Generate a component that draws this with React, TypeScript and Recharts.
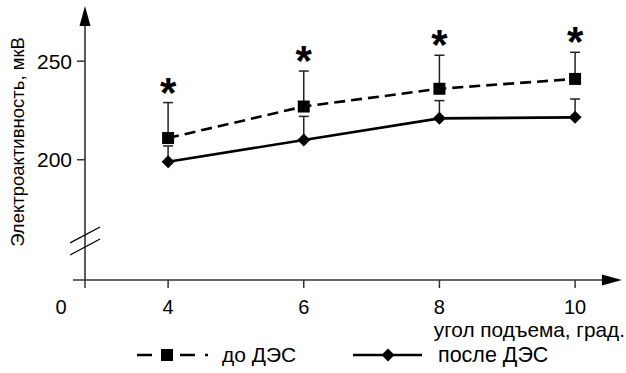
import React from "react";
import {
  ComposedChart,
  Line,
  XAxis,
  YAxis,
  ErrorBar,
  ReferenceLine,
  LabelList,
  Legend,
  Label,
} from "recharts";

// ---- data ----
const angles = [4, 6, 8, 10];
const beforeValues = [211, 227, 236, 241];
const beforeErrors = [18, 18, 17, 13.5];
const afterValues = [199, 210, 221, 221.5];
const afterErrors = [8, 12, 9, 9.3];
const yTicks = [200, 250];
const xTickValues = [4, 6, 8, 10];
const originLabel = "0";
const seriesNames = ["до ДЭС", "после ДЭС"];
const xAxisTitle = "угол подъема, град.";
const yAxisTitle = "Электроактивность, мкВ";

// ---- axis ranges (broken axes) ----
const X_MIN = 2.775;
const X_MAX = 10.5;
const Y_MIN = 139;
const Y_MAX = 279;

const data = angles.map((x, i) => ({
  x,
  before: beforeValues[i],
  beforeErr: [0, beforeErrors[i]],
  beforeTop: beforeValues[i] + beforeErrors[i],
  after: afterValues[i],
  afterErr: [0, afterErrors[i]],
}));

const FONT = "'Liberation Sans', Arial, Helvetica, sans-serif";
const AXIS_COLOR = "#333";

const ArrowLine = (props: any) => {
  const { x1, y1, x2, y2 } = props;
  const len = Math.hypot(x2 - x1, y2 - y1) || 1;
  const ux = (x2 - x1) / len;
  const uy = (y2 - y1) / len;
  const head = 20;
  const half = 5.5;
  const bx = x2 - ux * head;
  const by = y2 - uy * head;
  const px = -uy;
  const py = ux;
  return (
    <g>
      <line x1={x1} y1={y1} x2={bx + ux * 2} y2={by + uy * 2} stroke={AXIS_COLOR} strokeWidth={1.6} />
      <polygon
        points={`${x2},${y2} ${bx + px * half},${by + py * half} ${bx - px * half},${by - py * half}`}
        fill="#000"
      />
    </g>
  );
};

const PlainLine = (props: any) => {
  const { x1, y1, x2, y2 } = props;
  return <line x1={x1} y1={y1} x2={x2} y2={y2} stroke="#000" strokeWidth={1.3} />;
};

const SquareDot = (props: any) => {
  const { cx, cy, index } = props;
  if (cx == null || cy == null) return <g key={`s${index}`} />;
  return <rect key={`s${index}`} x={cx - 6} y={cy - 6} width={12} height={12} fill="#000" />;
};

const DiamondDot = (props: any) => {
  const { cx, cy, index } = props;
  if (cx == null || cy == null) return <g key={`d${index}`} />;
  const r = 6.5;
  return (
    <polygon
      key={`d${index}`}
      points={`${cx},${cy - r} ${cx + r},${cy} ${cx},${cy + r} ${cx - r},${cy}`}
      fill="#000"
    />
  );
};

const StarLabel = (props: any) => {
  const { x, y } = props;
  if (x == null || y == null) return null;
  return (
    <text x={x} y={y + 4} textAnchor="middle" fontSize={42} fontWeight="bold" fill="#000">
      *
    </text>
  );
};

const XTick = (props: any) => {
  const { x, y, payload } = props;
  const isOrigin = Math.abs(payload.value - X_MIN) < 1e-6;
  return (
    <text
      x={isOrigin ? x - 24 : x}
      y={y}
      dy="0.71em"
      textAnchor="middle"
      fontSize={20}
      fill="#000"
    >
      {isOrigin ? originLabel : String(payload.value)}
    </text>
  );
};

const LegendContent = () => (
  <svg width={626} height={30}>
    <line x1={137} y1={15} x2={208} y2={15} stroke="#000" strokeWidth={2.6} strokeDasharray="15 28 15 10 3" />
    <rect x={161} y={9} width={12} height={12} fill="#000" />
    <text x={222} y={22} fontSize={21} fill="#000" fontFamily={FONT}>
      {seriesNames[0]}
    </text>
    <line x1={353} y1={15} x2={422} y2={15} stroke="#000" strokeWidth={2.6} />
    <polygon points="388,8.5 394.5,15 388,21.5 381.5,15" fill="#000" />
    <text x={438} y={22} fontSize={21.5} fill="#000" fontFamily={FONT}>
      {seriesNames[1]}
    </text>
  </svg>
);

export default function App() {
  return (
    <div
      style={{
        position: "absolute",
        left: 0,
        top: 0,
        width: 626,
        height: 373,
        background: "#fff",
        fontFamily: FONT,
      }}
    >
      <ComposedChart
        width={626}
        height={373}
        data={data}
        margin={{ top: 4, right: 17, left: 8, bottom: 0 }}
      >
        <XAxis
          dataKey="x"
          type="number"
          domain={[X_MIN, X_MAX]}
          ticks={[X_MIN, ...xTickValues]}
          axisLine={false}
          tickLine={{ stroke: AXIS_COLOR, strokeWidth: 1.5 }}
          tickSize={8}
          tickMargin={12}
          height={63}
          tick={<XTick />}
          interval={0}
          allowDataOverflow
        >
          <Label
            content={(p: any) => {
              const vb = p.viewBox;
              return (
                <text
                  x={vb.x + vb.width + 16}
                  y={vb.y + 57}
                  textAnchor="end"
                  fontSize={20.8}
                  fill="#000"
                >
                  {xAxisTitle}
                </text>
              );
            }}
          />
        </XAxis>
        <YAxis
          type="number"
          domain={[Y_MIN, Y_MAX]}
          ticks={yTicks}
          axisLine={false}
          tickLine={{ stroke: AXIS_COLOR, strokeWidth: 1.5 }}
          tickSize={8}
          tickMargin={5}
          width={77}
          tick={{ fontSize: 21, fill: "#000" }}
          allowDataOverflow
        >
          <Label
            content={(p: any) => {
              const vb = p.viewBox;
              const cx = vb.x + 9;
              const cy = vb.y + vb.height / 2;
              return (
                <text
                  x={cx}
                  y={cy}
                  transform={`rotate(-90 ${cx} ${cy})`}
                  textAnchor="middle"
                  dominantBaseline="central"
                  fontSize={18.5}
                  fill="#000"
                >
                  {yAxisTitle}
                </text>
              );
            }}
          />
        </YAxis>

        <ReferenceLine
          segment={[{ x: X_MIN, y: Y_MIN }, { x: X_MIN, y: 278 }]}
          ifOverflow="visible"
          shape={ArrowLine}
        />
        <ReferenceLine
          segment={[{ x: 2.598, y: Y_MIN }, { x: 10.69, y: Y_MIN }]}
          ifOverflow="visible"
          shape={ArrowLine}
        />
        <ReferenceLine
          segment={[{ x: 2.555, y: 157.8 }, { x: 2.997, y: 165.9 }]}
          ifOverflow="visible"
          shape={PlainLine}
        />
        <ReferenceLine
          segment={[{ x: 2.555, y: 151.7 }, { x: 2.997, y: 159.8 }]}
          ifOverflow="visible"
          shape={PlainLine}
        />

        <Line
          dataKey="after"
          name={seriesNames[1]}
          stroke="#000"
          strokeWidth={2.6}
          dot={DiamondDot}
          activeDot={false}
          isAnimationActive={false}
        >
          <ErrorBar dataKey="afterErr" direction="y" width={5} stroke="#222" strokeWidth={1.5} />
        </Line>
        <Line
          dataKey="before"
          name={seriesNames[0]}
          stroke="#000"
          strokeWidth={2.6}
          strokeDasharray="11 6"
          dot={SquareDot}
          activeDot={false}
          isAnimationActive={false}
        >
          <ErrorBar dataKey="beforeErr" direction="y" width={5} stroke="#222" strokeWidth={1.5} />
        </Line>
        <Line
          dataKey="beforeTop"
          stroke="none"
          dot={false}
          activeDot={false}
          legendType="none"
          isAnimationActive={false}
        >
          <LabelList dataKey="beforeTop" content={StarLabel} />
        </Line>

        <Legend
          verticalAlign="bottom"
          content={LegendContent}
          wrapperStyle={{ left: 0, bottom: 3, width: 626, height: 30 }}
        />
      </ComposedChart>
    </div>
  );
}
